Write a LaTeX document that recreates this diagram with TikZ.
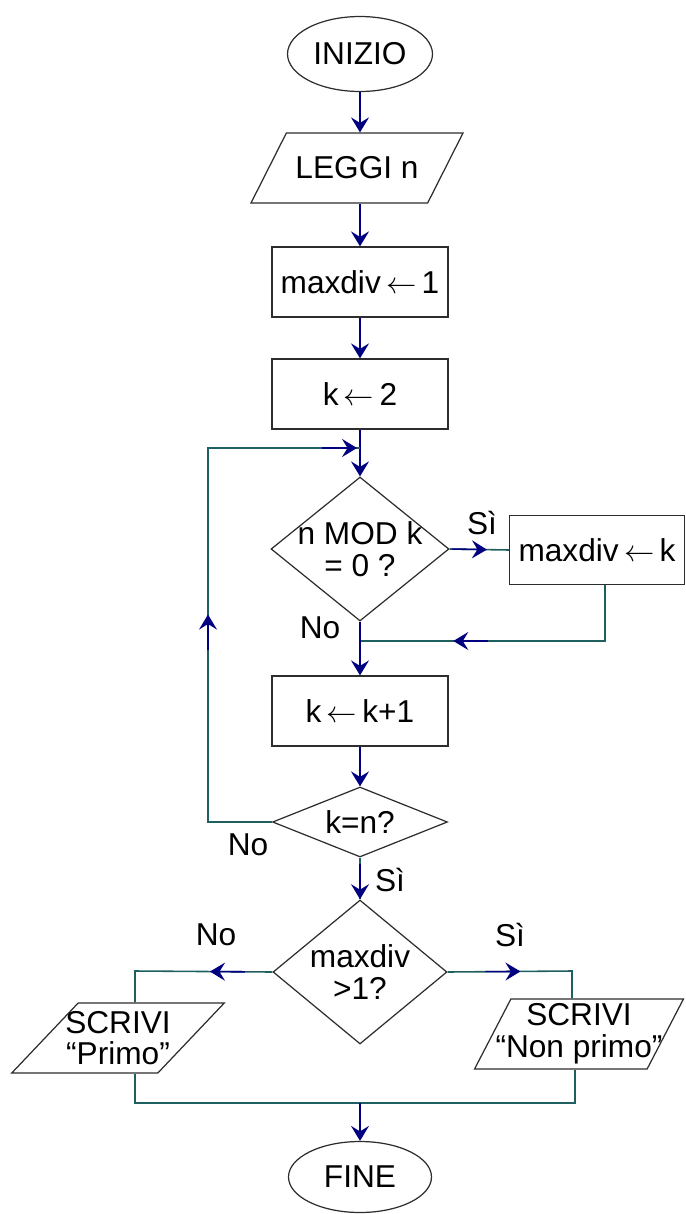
\documentclass[tikz,border=0pt]{standalone}
\usepackage{fontspec}
\setmainfont{Liberation Sans}
\usetikzlibrary{shapes.geometric, arrows.meta, decorations.markings}
\definecolor{lineteal}{RGB}{30,95,95}
\definecolor{arrownavy}{RGB}{0,0,128}
\definecolor{edgegray}{RGB}{45,45,45}
\begin{document}
\begin{tikzpicture}[x=0.02cm, y=-0.02cm,
	font=\fontsize{18}{18}\selectfont,
	every node/.style={align=center},
	terminale/.style={draw=edgegray, line width=0.7pt, ellipse, inner sep=1pt, minimum width=2.9cm, minimum height=1.5cm},
	istruz/.style={draw=edgegray, line width=0.7pt, rectangle, inner sep=1pt, minimum width=3.52cm, minimum height=1.4cm},
	ingresso/.style={draw=edgegray, line width=0.7pt, trapezium, trapezium left angle=63, trapezium right angle=117, trapezium stretches=true, inner xsep=-20pt, inner ysep=1pt, minimum width=4.26cm, minimum height=1.4cm},
	scelta/.style={draw=edgegray, line width=0.7pt, diamond, inner sep=-6pt},
	freccia/.style={draw=arrownavy, line width=0.9pt, -{Stealth[length=0.3cm, width=0.36cm, inset=0.11cm]}},
	linea/.style={draw=lineteal, line width=0.9pt},
	punta/.style={postaction={decorate, decoration={markings, mark=at position #1 with {\draw [freccia] (-0.7cm, 0) -- (0, 0);}}}}
]
\useasboundingbox (0, 0) rectangle (686, 1214);
\node [terminale] (inizio) at (360, 54) {INIZIO};
\node [ingresso] (leggi) at (357, 168) {LEGGI n};
\node [istruz] (maxuno) at (360, 282) {maxdiv\,$\leftarrow$\,1};
\node [istruz] (kdue) at (360, 394) {k\,$\leftarrow$\,2};
\node [scelta, minimum width=3.56cm, minimum height=2.88cm] (mod) at (360, 549) {n MOD k\\= 0 ?};
\node [istruz, minimum width=3.5cm, minimum height=1.38cm] (maxk) at (597, 550) {maxdiv\,$\leftarrow$\,k};
\node [istruz] (kinc) at (360, 711) {k\,$\leftarrow$\,k+1};
\node [scelta, aspect=2.5, minimum width=3.5cm, minimum height=1.4cm] (kn) at (360, 822) {k=n?};
\node [scelta, minimum width=3.48cm, minimum height=2.88cm] (magg) at (360, 972) {maxdiv\\>1?};
\node [ingresso] (primo) at (118, 1038) {SCRIVI\\``Primo''};
\node [ingresso, minimum width=4.2cm, trapezium left angle=68, trapezium right angle=112] (nonprimo) at (579, 1034) {SCRIVI\\``Non primo''};
\node [terminale, minimum width=2.86cm, minimum height=1.42cm] (fine) at (360, 1177) {FINE};
\node at (482, 523) {Sì};
\node at (320, 628) {No};
\node at (248, 845) {No};
\node at (390, 880) {Sì};
\node at (216, 935) {No};
\node at (510, 935) {Sì};
\coordinate (giuL) at (208, 822);
\coordinate (suL) at (208, 448);
\coordinate (entra) at (360, 448);
\coordinate (ritR) at (605, 641);
\coordinate (ritM) at (360, 641);
\coordinate (noL) at (135, 971);
\coordinate (siR) at (572, 971);
\coordinate (fondoL) at (135, 1103);
\coordinate (fondoR) at (575, 1103);
\draw [freccia] (inizio.south) -- (inizio.south |- leggi.north);
\draw [freccia] (inizio.south |- leggi.south) -- (maxuno);
\draw [freccia] (maxuno) -- (kdue);
\draw [freccia] (kdue) -- (mod);
\draw [linea, punta=0.46, punta=0.995] (kn.west) -- (giuL) -- (suL) -- (entra);
\draw [linea, punta=0.63] (mod.east) -- (maxk.west);
\draw [linea, punta=0.69] (ritR |- maxk.south) -- (ritR) -- (ritM);
\draw [freccia] (mod) -- (kinc);
\draw [freccia] (kinc) -- (kn);
\draw [linea, punta=0.995] (kn) -- (magg);
\draw [linea, punta=0.37] (magg.west) -- (noL) -- (noL |- primo.north);
\draw [linea, punta=0.48] (magg.east) -- (siR) -- (siR |- nonprimo.north);
\draw [linea] (fondoL |- primo.south) -- (fondoL) -- (fondoR) -- (fondoR |- nonprimo.south);
\draw [freccia] (fine.north |- fondoL) -- (fine);
\end{tikzpicture}
\end{document}
